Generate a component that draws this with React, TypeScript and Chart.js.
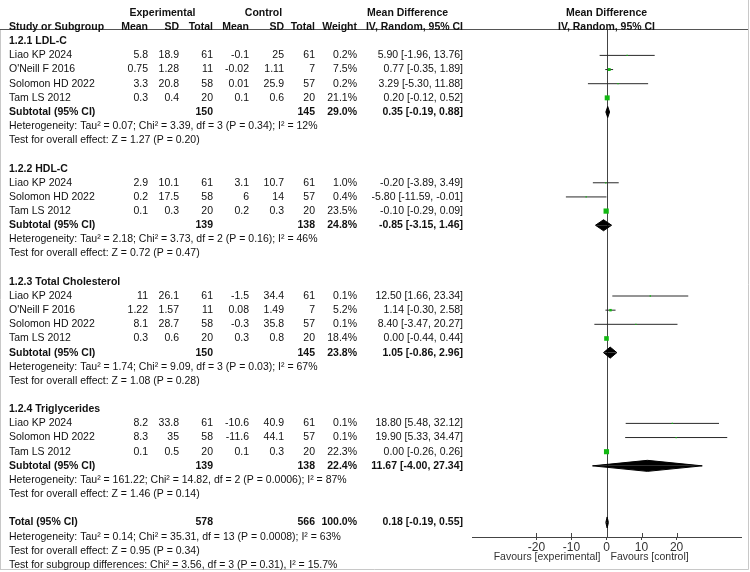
import React, { useEffect, useRef } from 'react';
import Chart from 'chart.js/auto';

// ---------------- data ----------------
const groupTitles = ['1.2.1 LDL-C', '1.2.2 HDL-C', '1.2.3 Total Cholesterol', '1.2.4 Triglycerides'];
const studyNames = [
  ['Liao KP 2024', "O'Neill F 2016", 'Solomon HD 2022', 'Tam LS 2012'],
  ['Liao KP 2024', 'Solomon HD 2022', 'Tam LS 2012'],
  ['Liao KP 2024', "O'Neill F 2016", 'Solomon HD 2022', 'Tam LS 2012'],
  ['Liao KP 2024', 'Solomon HD 2022', 'Tam LS 2012'],
];
const expMean = [[5.8, 0.75, 3.3, 0.3], [2.9, 0.2, 0.1], [11, 1.22, 8.1, 0.3], [8.2, 8.3, 0.1]];
const expSD = [[18.9, 1.28, 20.8, 0.4], [10.1, 17.5, 0.3], [26.1, 1.57, 28.7, 0.6], [33.8, 35, 0.5]];
const expN = [[61, 11, 58, 20], [61, 58, 20], [61, 11, 58, 20], [61, 58, 20]];
const ctlMean = [[-0.1, -0.02, 0.01, 0.1], [3.1, 6, 0.2], [-1.5, 0.08, -0.3, 0.3], [-10.6, -11.6, 0.1]];
const ctlSD = [[25, 1.11, 25.9, 0.6], [10.7, 14, 0.3], [34.4, 1.49, 35.8, 0.8], [40.9, 44.1, 0.3]];
const ctlN = [[61, 7, 57, 20], [61, 57, 20], [61, 7, 57, 20], [61, 57, 20]];
const weights = [[0.2, 7.5, 0.2, 21.1], [1.0, 0.4, 23.5], [0.1, 5.2, 0.1, 18.4], [0.1, 0.1, 22.3]];
const meanDiff = [[5.9, 0.77, 3.29, 0.2], [-0.2, -5.8, -0.1], [12.5, 1.14, 8.4, 0.0], [18.8, 19.9, 0.0]];
const ciLow = [[-1.96, -0.35, -5.3, -0.12], [-3.89, -11.59, -0.29], [1.66, -0.3, -3.47, -0.44], [5.48, 5.33, -0.26]];
const ciHigh = [[13.76, 1.89, 11.88, 0.52], [3.49, -0.01, 0.09], [23.34, 2.58, 20.27, 0.44], [32.12, 34.47, 0.26]];

const subExpN = [150, 139, 150, 139];
const subCtlN = [145, 138, 145, 138];
const subWeight = [29.0, 24.8, 23.8, 22.4];
const subMd = [0.35, -0.85, 1.05, 11.67];
const subLow = [-0.19, -3.15, -0.86, -4.0];
const subHigh = [0.88, 1.46, 2.96, 27.34];
const subHet = [
  'Heterogeneity: Tau² = 0.07; Chi² = 3.39, df = 3 (P = 0.34); I² = 12%',
  'Heterogeneity: Tau² = 2.18; Chi² = 3.73, df = 2 (P = 0.16); I² = 46%',
  'Heterogeneity: Tau² = 1.74; Chi² = 9.09, df = 3 (P = 0.03); I² = 67%',
  'Heterogeneity: Tau² = 161.22; Chi² = 14.82, df = 2 (P = 0.0006); I² = 87%',
];
const subEffect = [
  'Test for overall effect: Z = 1.27 (P = 0.20)',
  'Test for overall effect: Z = 0.72 (P = 0.47)',
  'Test for overall effect: Z = 1.08 (P = 0.28)',
  'Test for overall effect: Z = 1.46 (P = 0.14)',
];
const totalN = [578, 566];
const totalWeight = 100.0;
const totalMd = [0.18, -0.19, 0.55];
const totalNotes = [
  'Heterogeneity: Tau² = 0.14; Chi² = 35.31, df = 13 (P = 0.0008); I² = 63%',
  'Test for overall effect: Z = 0.95 (P = 0.34)',
  'Test for subgroup differences: Chi² = 3.56, df = 3 (P = 0.31), I² = 15.7%',
];
const xTicks = [-20, -10, 0, 10, 20];
const favoursLabels = ['Favours [experimental]', 'Favours [control]'];

// ---------------- layout helpers ----------------
const FONT = '"Liberation Sans", Arial, sans-serif';
const FS = 10.5;
const COL = { study: 9, expMean: 148, expSD: 179, expN: 213, ctlMean: 249, ctlSD: 284, ctlN: 315, weight: 357, md: 463 };

type Row = { r: number; kind: string; g?: number; s?: number; text?: string };

const rows: Row[] = [];
let cursor = 2;
groupTitles.forEach((t, g) => {
  rows.push({ r: cursor++, kind: 'title', g });
  studyNames[g].forEach((_, s) => rows.push({ r: cursor++, kind: 'study', g, s }));
  rows.push({ r: cursor++, kind: 'subtotal', g });
  rows.push({ r: cursor++, kind: 'note', text: subHet[g] });
  rows.push({ r: cursor++, kind: 'note', text: subEffect[g] });
  cursor++;
});
rows.push({ r: cursor++, kind: 'total' });
totalNotes.forEach((t) => rows.push({ r: cursor++, kind: 'note', text: t }));

const f2 = (v: number) => v.toFixed(2);
const ciText = (m: number, l: number, h: number) => `${f2(m)} [${f2(l)}, ${f2(h)}]`;

// ---------------- datasets ----------------
const DIAMOND_H = 0.39;
function buildDatasets() {
  const pts: any[] = [];
  const radii: number[] = [];
  const ci: any[] = [];
  const diamonds: any[] = [];
  const addDiamond = (r: number, m: number, l: number, h: number) => {
    [-1, 1].forEach((sgn) => {
      diamonds.push({
        type: 'line',
        data: [{ x: l, y: r }, { x: m, y: r + sgn * DIAMOND_H }, { x: h, y: r }],
        borderColor: '#000',
        backgroundColor: '#000',
        borderWidth: 1,
        pointRadius: 0,
        fill: { value: r },
        order: 1,
      });
    });
  };
  rows.forEach((row) => {
    if (row.kind === 'study') {
      const g = row.g!, s = row.s!;
      pts.push({ x: meanDiff[g][s], y: row.r });
      const side = Math.max(1.3, 1.08 * Math.sqrt(weights[g][s]));
      radii.push(side / Math.SQRT2);
      ci.push({ x: ciLow[g][s], y: row.r }, { x: ciHigh[g][s], y: row.r }, { x: ciHigh[g][s], y: null });
    } else if (row.kind === 'subtotal') {
      const g = row.g!;
      addDiamond(row.r, subMd[g], subLow[g], subHigh[g]);
    } else if (row.kind === 'total') {
      addDiamond(row.r, totalMd[0], totalMd[1], totalMd[2]);
    }
  });
  return [
    {
      type: 'line',
      data: pts,
      showLine: false,
      pointStyle: 'rect',
      pointRadius: radii,
      pointBackgroundColor: '#12b812',
      pointBorderWidth: 0,
      order: 0,
    },
    {
      type: 'line',
      data: ci,
      borderColor: '#2a2a2a',
      borderWidth: 1,
      pointRadius: 0,
      spanGaps: false,
      fill: false,
      order: 2,
    },
    ...diamonds,
  ];
}

// ---------------- plugins ----------------
const HEADER_LINE_Y = 29.5;

const framePlugin = {
  id: 'frame',
  beforeDraw(chart: any) {
    const { ctx, width, height } = chart;
    ctx.save();
    ctx.fillStyle = '#fff';
    ctx.fillRect(0, 0, width, height);
    ctx.strokeStyle = '#c8c8c8';
    ctx.lineWidth = 1;
    ctx.beginPath();
    ctx.moveTo(0.5, HEADER_LINE_Y);
    ctx.lineTo(0.5, height - 2.5);
    ctx.moveTo(0, height - 2.5);
    ctx.lineTo(width - 1.5, height - 2.5);
    ctx.moveTo(width - 1.5, 0);
    ctx.lineTo(width - 1.5, height - 2.5);
    ctx.stroke();
    ctx.strokeStyle = '#555';
    ctx.beginPath();
    ctx.moveTo(0, HEADER_LINE_Y);
    ctx.lineTo(width - 2, HEADER_LINE_Y);
    ctx.stroke();
    ctx.restore();
  },
  beforeDatasetsDraw(chart: any) {
    const { ctx, scales, chartArea } = chart;
    const x0 = Math.round(scales.x.getPixelForValue(0)) + 0.5;
    ctx.save();
    ctx.strokeStyle = '#444';
    ctx.lineWidth = 1;
    ctx.beginPath();
    ctx.moveTo(x0, HEADER_LINE_Y);
    ctx.lineTo(x0, chartArea.bottom);
    scales.x.ticks.forEach((t: any) => {
      const px = Math.round(scales.x.getPixelForValue(t.value)) + 0.5;
      ctx.moveTo(px, chartArea.bottom - 4);
      ctx.lineTo(px, chartArea.bottom);
    });
    ctx.stroke();
    ctx.restore();
  },
};

const tablePlugin = {
  id: 'table',
  afterDraw(chart: any) {
    const { ctx, scales, chartArea } = chart;
    const py = (r: number) => scales.y.getPixelForValue(r);
    const x0 = scales.x.getPixelForValue(0);
    const txt = (s: string, x: number, y: number, align: CanvasTextAlign, bold = false) => {
      ctx.font = `${bold ? 'bold ' : ''}${FS}px ${FONT}`;
      ctx.textAlign = align;
      ctx.fillText(s, x, y);
    };
    ctx.save();
    ctx.fillStyle = '#111';
    ctx.textBaseline = 'middle';
    const h0 = py(0), h1 = py(1);
    txt('Experimental', 162.5, h0, 'center', true);
    txt('Control', 263.5, h0, 'center', true);
    txt('Mean Difference', 367, h0, 'left', true);
    txt('Mean Difference', x0, h0, 'center', true);
    txt('Study or Subgroup', COL.study, h1, 'left', true);
    txt('Mean', COL.expMean, h1, 'right', true);
    txt('SD', COL.expSD, h1, 'right', true);
    txt('Total', COL.expN, h1, 'right', true);
    txt('Mean', COL.ctlMean, h1, 'right', true);
    txt('SD', COL.ctlSD, h1, 'right', true);
    txt('Total', COL.ctlN, h1, 'right', true);
    txt('Weight', COL.weight, h1, 'right', true);
    txt('IV, Random, 95% CI', COL.md, h1, 'right', true);
    txt('IV, Random, 95% CI', x0, h1, 'center', true);

    rows.forEach((row) => {
      const y = py(row.r);
      if (row.kind === 'title') {
        txt(groupTitles[row.g!], COL.study, y, 'left', true);
      } else if (row.kind === 'study') {
        const g = row.g!, s = row.s!;
        txt(studyNames[g][s], COL.study, y, 'left');
        txt(String(expMean[g][s]), COL.expMean, y, 'right');
        txt(String(expSD[g][s]), COL.expSD, y, 'right');
        txt(String(expN[g][s]), COL.expN, y, 'right');
        txt(String(ctlMean[g][s]), COL.ctlMean, y, 'right');
        txt(String(ctlSD[g][s]), COL.ctlSD, y, 'right');
        txt(String(ctlN[g][s]), COL.ctlN, y, 'right');
        txt(weights[g][s].toFixed(1) + '%', COL.weight, y, 'right');
        txt(ciText(meanDiff[g][s], ciLow[g][s], ciHigh[g][s]), COL.md, y, 'right');
      } else if (row.kind === 'subtotal') {
        const g = row.g!;
        txt('Subtotal (95% CI)', COL.study, y, 'left', true);
        txt(String(subExpN[g]), COL.expN, y, 'right', true);
        txt(String(subCtlN[g]), COL.ctlN, y, 'right', true);
        txt(subWeight[g].toFixed(1) + '%', COL.weight, y, 'right', true);
        txt(ciText(subMd[g], subLow[g], subHigh[g]), COL.md, y, 'right', true);
      } else if (row.kind === 'total') {
        txt('Total (95% CI)', COL.study, y, 'left', true);
        txt(String(totalN[0]), COL.expN, y, 'right', true);
        txt(String(totalN[1]), COL.ctlN, y, 'right', true);
        txt(totalWeight.toFixed(1) + '%', COL.weight, y, 'right', true);
        txt(ciText(totalMd[0], totalMd[1], totalMd[2]), COL.md, y, 'right', true);
      } else if (row.kind === 'note') {
        txt(row.text!, COL.study, y, 'left');
      }
    });
    ctx.fillStyle = '#333';
    const fy = chartArea.bottom + 20.5;
    txt(favoursLabels[0], x0 - 6, fy, 'right');
    txt(favoursLabels[1], x0 + 4, fy, 'left');
    ctx.restore();
  },
};

// ---------------- component ----------------
const ROW_PX = 14.26;
const ROW0_PX = 9;
const AXIS_BAND = 35;
const CANVAS_W = 750;
const CANVAS_H = 572;

export default function App() {
  const ref = useRef<HTMLCanvasElement | null>(null);
  useEffect(() => {
    if (!ref.current) return;
    const plotBottom = CANVAS_H - AXIS_BAND;
    const yMin = -ROW0_PX / ROW_PX;
    const yMax = (plotBottom - ROW0_PX) / ROW_PX;
    const chart = new Chart(ref.current, {
      type: 'line',
      data: { datasets: buildDatasets() as any },
      options: {
        responsive: false,
        animation: false,
        events: [],
        layout: { padding: { left: 472, right: 9, top: 0, bottom: 0 } },
        plugins: { legend: { display: false }, tooltip: { enabled: false } },
        scales: {
          x: {
            type: 'linear',
            min: -38.4,
            max: 38.4,
            afterBuildTicks: (scale: any) => {
              scale.ticks = xTicks.map((v) => ({ value: v }));
            },
            afterFit: (scale: any) => {
              scale.height = AXIS_BAND;
            },
            grid: { drawOnChartArea: false, drawTicks: true, tickLength: 3, color: '#444' },
            border: { display: true, color: '#444', width: 1 },
            ticks: {
              padding: 0,
              color: '#333',
              font: { family: FONT, size: 12 },
              callback: (v: any) => String(v),
            },
          },
          y: {
            type: 'linear',
            display: false,
            reverse: true,
            min: yMin,
            max: yMax,
          },
        },
      } as any,
      plugins: [framePlugin, tablePlugin],
    });
    return () => chart.destroy();
  }, []);
  return (
    <div style={{ position: 'fixed', left: 0, top: 0, width: CANVAS_W, height: CANVAS_H, background: '#fff' }}>
      <canvas ref={ref} width={CANVAS_W} height={CANVAS_H} style={{ display: 'block', width: CANVAS_W, height: CANVAS_H }} />
    </div>
  );
}
